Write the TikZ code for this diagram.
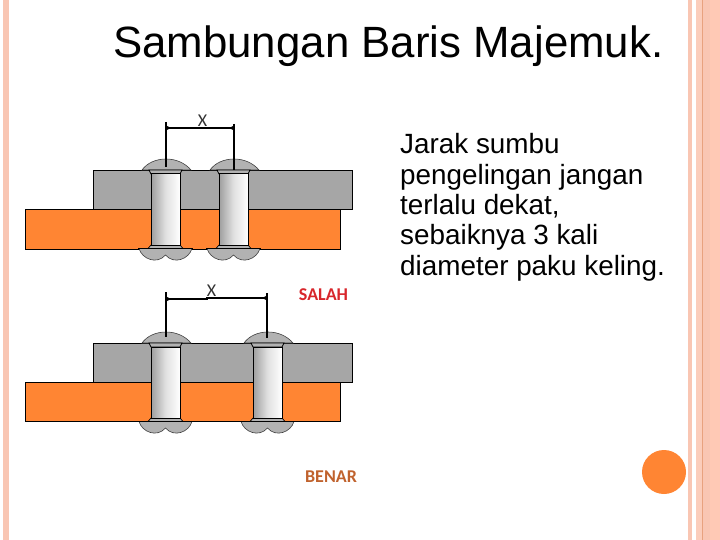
\documentclass[tikz,border=0pt]{standalone}
\usepackage{fontspec}
\setmainfont{Liberation Sans}
\newfontfamily\labelfont{Carlito}
\definecolor{band}{HTML}{F9C6B3}
\definecolor{bandb}{HTML}{FBCDBB}
\definecolor{bandc}{HTML}{FFC9B5}
\definecolor{bandline}{HTML}{E8A27F}
\definecolor{plateorange}{HTML}{FF8533}
\definecolor{plategray}{HTML}{A6A6A6}
\definecolor{headgray}{HTML}{B2B2B2}
\definecolor{redlabel}{HTML}{D8262B}
\definecolor{brownlabel}{HTML}{C0622D}
\tikzset{
  plate/.style={draw=black,line width=0.8pt},
  headshape/.style={draw=black!75,fill=headgray,line width=0.6pt},
  shank/.style={draw=black,line width=1pt,left color=black!38,right color=white,middle color=black!12},
  dimline/.style={draw=black,line width=1.3pt},
  dimtip/.style={fill=black},
  xlabel/.style={font=\labelfont\fontsize{18}{18}\selectfont,inner sep=0pt,text=black!80},
  titlebody/.style={font=\fontsize{27.85}{30.3}\selectfont,align=left,anchor=north west,inner sep=0pt}
}
% #1 left edge of shank, #2 top of upper plate
\newcommand{\rivetshape}[2]{%
  \begin{scope}[shift={(#1,#2)}]
    \path[headshape] (-9,0) .. controls (-4,-7) and (5,-11) .. (15,-11) .. controls (25,-11) and (34,-7) .. (40,0) -- cycle;
    \path[headshape] (-12,78.5) .. controls (-9,89) and (6,95) .. (14.5,85) .. controls (23,95) and (38,89) .. (41,78.5) -- cycle;
    \path[draw=black,line width=0.7pt,fill=headgray] (-2,0) -- (31,0) -- (29,4) -- (0,4) -- cycle;
    \path[draw=black,line width=0.7pt,fill=headgray] (0,75) -- (29,75) -- (32,78.5) -- (-3,78.5) -- cycle;
    \path[shank] (0,4) rectangle (29,75);
    \draw[black,line width=1.2pt] (-13,78.5) -- (42,78.5);
  \end{scope}}
\begin{document}
\begin{tikzpicture}[x=1pt,y=-1pt]
\useasboundingbox (0,0) rectangle (720,540);
\fill[white] (0,0) rectangle (720,540);
% side bands
\fill[band] (3,0) rectangle (9,540);
\fill[band] (688,0) rectangle (692,540);
\fill[bandb] (696,0) rectangle (702,540);
\fill[bandline] (702,0) rectangle (703,540);
\fill[band] (703,0) rectangle (710,540);
\fill[bandc] (710,0) rectangle (720,540);
% decoration circle
\node[circle,fill=plateorange,minimum size=44pt,inner sep=0pt] (dot) at (664,472) {};
% title and body
\node[font=\fontsize{43.8}{43.8}\selectfont,anchor=base west,inner sep=0pt] (title) at (113,58) {Sambungan Baris Majemuk.};
\node[titlebody] (body) at (400,133.5) {Jarak sumbu\\pengelingan jangan\\terlalu dekat,\\sebaiknya 3 kali\\diameter paku keling.};
% upper assembly
\path[plate,fill=plategray] (93,170) rectangle (352,209);
\path[plate,fill=plateorange] (25,209) rectangle (340,249);
\rivetshape{151}{170}
\rivetshape{219}{170}
\coordinate (a1) at (166,122); \coordinate (a2) at (166,167);
\coordinate (b1) at (234,124); \coordinate (b2) at (234,170);
\coordinate (ac) at (166,128); \coordinate (bc) at (234,128);
\draw[dimline] (a1) -- (a2);
\draw[dimline] (b1) -- (b2);
\draw[dimline] (ac) -- (bc);
\fill[dimtip] (166,125.5) -- (171,128) -- (166,130.5) -- cycle;
\fill[dimtip] (234,125.5) -- (229,128) -- (234,130.5) -- cycle;
\node[xlabel] (x1) at (202.5,120.5) {X};
% lower assembly
\path[plate,fill=plategray] (93,343) rectangle (352,382);
\path[plate,fill=plateorange] (25,382) rectangle (340,421);
\rivetshape{151}{343}
\rivetshape{253}{343}
\coordinate (c1) at (166,292); \coordinate (c2) at (166,337);
\coordinate (d1) at (267,293); \coordinate (d2) at (267,338);
\coordinate (cc) at (166,299); \coordinate (dc) at (267,298);
\draw[dimline] (c1) -- (c2);
\draw[dimline] (d1) -- (d2);
\draw[dimline] (cc) -- (207,299) -- (207,298) -- (dc);
\fill[dimtip] (166,296.5) -- (171,299) -- (166,301.5) -- cycle;
\fill[dimtip] (267,295.5) -- (262,298) -- (267,300.5) -- cycle;
\node[xlabel] (x2) at (211.5,290.5) {X};
% verdicts
\node[font=\labelfont\bfseries\fontsize{18}{18}\selectfont,text=redlabel,inner sep=0pt] (salah) at (323.5,295) {SALAH};
\node[font=\labelfont\bfseries\fontsize{18}{18}\selectfont,text=brownlabel,inner sep=0pt] (benar) at (331,477) {BENAR};
\end{tikzpicture}
\end{document}
